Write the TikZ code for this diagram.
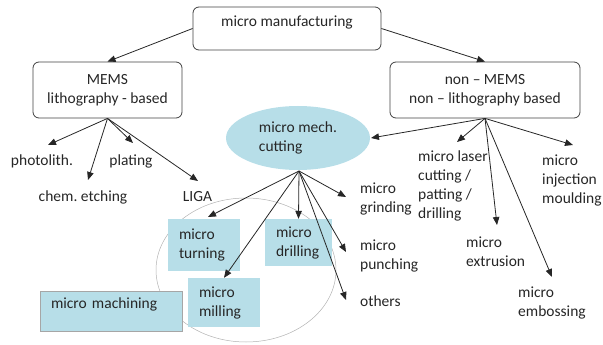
\documentclass[tikz,border=0pt]{standalone}
\usepackage{fontspec}
\setmainfont{Carlito}
\usetikzlibrary{arrows.meta,shapes.geometric}
\definecolor{lb}{HTML}{B7DEE8}
\definecolor{tx}{HTML}{262626}
\frenchspacing
\begin{document}
\begin{tikzpicture}[x=1pt,y=-1pt,font=\fontsize{15.5}{19}\selectfont,text=tx,
  rbox/.style={draw=black!75,line width=0.8pt,rounded corners=6pt,align=center,inner sep=0pt},
  bluebox/.style={fill=lb,inner xsep=11pt,inner ysep=0pt,align=left},
  lbl/.style={inner sep=0pt,align=left},
  arr/.style={draw=black!85,line width=0.8pt,-{Triangle[length=8pt,width=6.5pt]}}]
\useasboundingbox (0,0) rectangle (603,345);
% big thin ellipse (behind)
\node[ellipse,draw=gray!60,line width=0.5pt,minimum width=180pt,minimum height=144pt] (ring) at (246,270) {};
% main boxes
\node[rbox,minimum width=188pt,text height=20pt,text depth=23pt] (top) at (287,28.5) {micro manufacturing};
\node[rbox,minimum width=149pt,minimum height=56pt] (mems) at (107.5,90) {MEMS\\lithography - based};
\node[rbox,minimum width=190pt,minimum height=56pt] (nm) at (485,90) {non – MEMS\\non – lithography based};
\node[ellipse,fill=lb,minimum width=144pt,minimum height=64pt,inner sep=0pt,align=left] (mech) at (298,138) {micro mech.\\cutting};
% blue boxes
\node[bluebox,text width=50pt,minimum height=52pt] (turn) at (204,245) {micro\\turning};
\node[bluebox,text width=45pt,minimum height=47pt] (drill) at (298.5,242.5) {micro\\drilling};
\node[bluebox,text width=50pt,minimum height=49pt] (mill) at (224,302.5) {micro\\milling};
\node[bluebox,draw=gray!70,line width=0.6pt,text width=120pt,text height=17pt,text depth=23pt] (mach) at (111,311) {micro machining};
% labels
\node[lbl] (photo) at (42,161) {photolith.};
\node[lbl] (chem) at (83,197) {chem. etching};
\node[lbl] (plat) at (131,161) {plating};
\node[lbl] (liga) at (197.5,197) {LIGA};
\node[lbl,anchor=west] (grind) at (360,198.5) {micro\\grinding};
\node[lbl,anchor=west] (punch) at (360,255.5) {micro\\punching};
\node[lbl,anchor=west] (oth) at (360,301) {others};
\node[lbl,anchor=west] (laser) at (418,186) {micro laser\\cutting /\\patting /\\drilling};
\node[lbl,anchor=west] (inj) at (542,180) {micro\\injection\\moulding};
\node[lbl,anchor=west] (extr) at (466,251.5) {micro\\extrusion};
\node[lbl,anchor=west] (emb) at (518,303) {micro\\embossing};
% arrow tips
\coordinate (tPh) at (48,145);
\coordinate (tCh) at (88,180);
\coordinate (tPl) at (133,143);
\coordinate (tLi) at (198,181);
\coordinate (tLa) at (457,142);
\coordinate (tEx) at (497,225);
\coordinate (tEm) at (552,277);
\coordinate (tIn) at (573,145);
\coordinate (tTu) at (208,217);
\coordinate (tGr) at (346,197);
\coordinate (tPu) at (346,252);
\coordinate (tOt) at (346,300);
\coordinate (mS) at (299,171);
\coordinate (tMe) at (371,138);
% connectors
\draw[arr] (top.west) -- (mems.north);
\draw[arr] (top.east) -- (nm.north);
\draw[arr] (mems.south) -- (tPh);
\draw[arr] (mems.south) -- (tCh);
\draw[arr] (mems.south) -- (tPl);
\draw[arr] (mems.south) -- (tLi);
\draw[arr] (nm.south) -- (tMe);
\draw[arr] (nm.south) -- (tLa);
\draw[arr] (nm.south) -- (tEx);
\draw[arr] (nm.south) -- (tEm);
\draw[arr] (nm.south) -- (tIn);
\draw[arr] (mS) -- (tTu);
\draw[arr] (mS) -- (drill.north);
\draw[arr] (mS) -- (mill.north);
\draw[arr] (mS) -- (tGr);
\draw[arr] (mS) -- (tPu);
\draw[arr] (mS) -- (tOt);
\end{tikzpicture}
\end{document}
